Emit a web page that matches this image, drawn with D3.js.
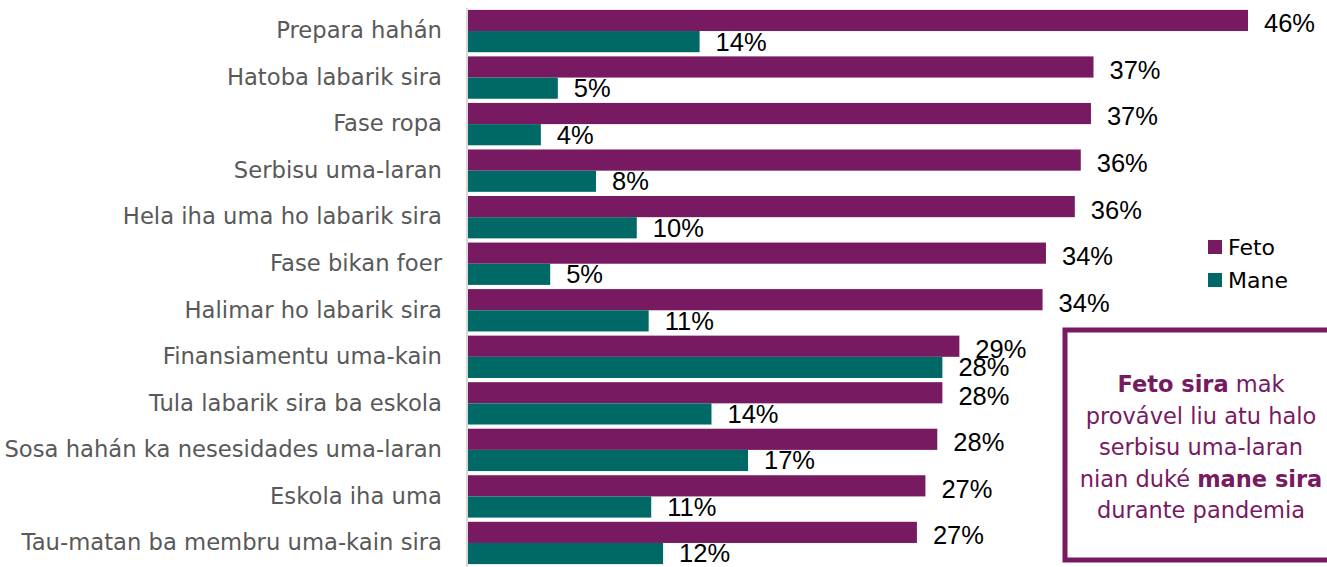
<!DOCTYPE html>
<html>
<head>
<meta charset="utf-8">
<script src="https://cdn.jsdelivr.net/npm/d3@7"></script>
<style>
  body { margin: 0; background: #fff; }
  svg { display: block; font-family: "DejaVu Sans", sans-serif; }
</style>
</head>
<body>
<div id="chart"></div>
<script>
const categories = [
  "Prepara hahán",
  "Hatoba labarik sira",
  "Fase ropa",
  "Serbisu uma-laran",
  "Hela iha uma ho labarik sira",
  "Fase bikan foer",
  "Halimar ho labarik sira",
  "Finansiamentu uma-kain",
  "Tula labarik sira ba eskola",
  "Sosa hahán ka nesesidades uma-laran",
  "Eskola iha uma",
  "Tau-matan ba membru uma-kain sira"
];
const fetoValues = [46.0, 36.9, 36.75, 36.15, 35.8, 34.1, 33.9, 29.0, 28.0, 27.7, 27.0, 26.5];
const maneValues = [13.7, 5.35, 4.35, 7.6, 10.0, 4.9, 10.7, 28.0, 14.4, 16.55, 10.85, 11.55];
const fetoLabels = ["46%", "37%", "37%", "36%", "36%", "34%", "34%", "29%", "28%", "28%", "27%", "27%"];
const maneLabels = ["14%", "5%", "4%", "8%", "10%", "5%", "11%", "28%", "14%", "17%", "11%", "12%"];
const seriesNames = ["Feto", "Mane"];

const width = 1327;
const height = 567;
const colors = { Feto: "#771a61", Mane: "#006966" };
const margin = { top: 8, right: 79, bottom: 1, left: 467 };

const svg = d3.select("#chart").append("svg")
  .attr("width", width)
  .attr("height", height);

const x = d3.scaleLinear()
  .domain([0, 46])
  .range([margin.left, 1248]);

const y = d3.scaleBand()
  .domain(categories)
  .range([margin.top, height - margin.bottom])
  .paddingInner(0.09)
  .paddingOuter(0.04);

const inner = d3.scaleBand()
  .domain(seriesNames)
  .range([0, y.bandwidth()]);

const rows = categories.map((name, i) => ({
  name,
  values: [
    { key: "Feto", value: fetoValues[i], label: fetoLabels[i] },
    { key: "Mane", value: maneValues[i], label: maneLabels[i] }
  ]
}));

// bars
const groups = svg.append("g")
  .selectAll("g.row")
  .data(rows)
  .join("g")
  .attr("class", "row")
  .attr("transform", (d) => `translate(0,${y(d.name)})`);

groups.selectAll("rect")
  .data((d) => d.values)
  .join("rect")
  .attr("x", x(0))
  .attr("y", (d) => inner(d.key))
  .attr("width", (d) => x(d.value) - x(0))
  .attr("height", inner.bandwidth())
  .attr("fill", (d) => colors[d.key]);

groups.selectAll("text.value")
  .data((d) => d.values)
  .join("text")
  .attr("class", "value")
  .attr("x", (d) => x(d.value) + 16)
  .attr("y", (d) => inner(d.key) + inner.bandwidth() / 2 + (d.key === "Feto" ? 3 : 0))
  .attr("dy", "0.35em")
  .style("font-family", "'Liberation Sans', Arial, sans-serif")
  .style("font-size", "25.5px")
  .style("fill", "#000")
  .text((d) => d.label);

// category axis
const yAxis = svg.append("g")
  .attr("transform", `translate(${margin.left},0)`)
  .call(d3.axisLeft(y).tickSize(0).tickPadding(25));
yAxis.select(".domain").attr("stroke", "#d9d9d9").attr("stroke-width", 2)
  .attr("d", `M0,${margin.top}V${height}`);
yAxis.selectAll(".tick text")
  .style("font-size", "22.7px")
  .style("font-family", "'DejaVu Sans', sans-serif")
  .style("fill", "#595959");

// legend
const legend = svg.append("g")
  .selectAll("g.legend")
  .data(seriesNames)
  .join("g")
  .attr("class", "legend")
  .attr("transform", (d, i) => `translate(1208,${240 + i * 33})`);
legend.append("rect")
  .attr("width", 14)
  .attr("height", 14)
  .attr("fill", (d) => colors[d]);
legend.append("text")
  .attr("x", 20)
  .attr("y", 7)
  .attr("dy", "0.35em")
  .style("font-size", "22px")
  .style("fill", "#000")
  .text((d) => d);

// note box
svg.append("rect")
  .attr("x", 1065)
  .attr("y", 330)
  .attr("width", 270)
  .attr("height", 230)
  .attr("fill", "none")
  .attr("stroke", colors.Feto)
  .attr("stroke-width", 5);

const noteLines = [
  [["Feto sira", true], [" mak", false]],
  [["provável liu atu halo", false]],
  [["serbisu uma-laran", false]],
  [["nian duké ", false], ["mane sira", true]],
  [["durante pandemia", false]]
];
const note = svg.append("text")
  .attr("text-anchor", "middle")
  .style("font-size", "22.5px")
  .style("fill", colors.Feto);
noteLines.forEach((parts, i) => {
  const line = note.append("tspan")
    .attr("x", 1201)
    .attr("y", 392 + i * 31.5);
  parts.forEach(([t, bold]) => {
    line.append("tspan")
      .style("font-weight", bold ? "bold" : "normal")
      .text(t);
  });
});
</script>
</body>
</html>
